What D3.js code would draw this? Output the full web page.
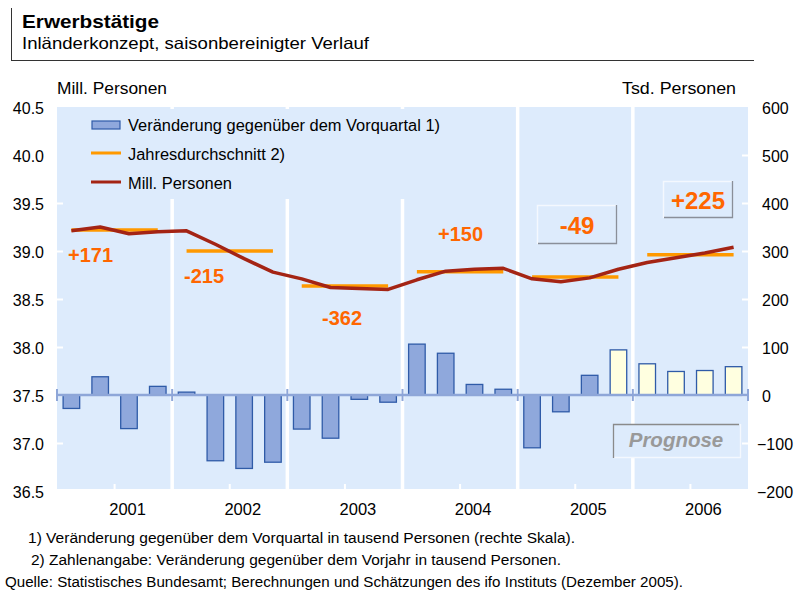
<!DOCTYPE html>
<html>
<head>
<meta charset="utf-8">
<script src="https://cdn.jsdelivr.net/npm/d3@7"></script>
<style>
  html, body { margin: 0; padding: 0; background: #ffffff; }
  svg { display: block; font-family: Arial, "Liberation Sans", sans-serif; }
</style>
</head>
<body>
<svg id="chart" width="795" height="591"></svg>
<script>
// ---------- DATA ----------
const years = ["2001", "2002", "2003", "2004", "2005", "2006"];
const quarters = years.flatMap(y => ["Q1", "Q2", "Q3", "Q4"].map(q => y + q));
// Veränderung gegenüber dem Vorquartal (Tsd. Personen, rechte Skala)
const changes = [-28, 38, -70, 18,  6, -137, -153, -140,  -71, -90, -9, -15,
                 106, 87, 22, 12,  -110, -35, 41, 94,  65, 49, 51, 59];
// Erwerbstätige in Mill. Personen (linke Skala)
const persons = [39.21, 39.25, 39.18, 39.20,  39.21, 39.07, 38.92, 38.78,
                 38.71, 38.62, 38.61, 38.60,  38.70, 38.79, 38.81, 38.82,
                 38.71, 38.68, 38.72, 38.81,  38.88, 38.93, 38.98, 39.04];
// Jahresdurchschnitt (Mill. Personen)
const annualAvg = [39.22, 39.00, 38.635, 38.785, 38.73, 38.96];
// Veränderung gegenüber dem Vorjahr (Tsd. Personen)
const annualChange = ["+171", "-215", "-362", "+150", "-49", "+225"];
const forecastStart = "2005Q4";
const leftTicks = [36.5, 37.0, 37.5, 38.0, 38.5, 39.0, 39.5, 40.0, 40.5];
const rightTicks = [-200, -100, 0, 100, 200, 300, 400, 500, 600];

// ---------- LAYOUT ----------
const L = 57, R = 748, T = 107, B = 491;
const BG = "#ddebfc";
const FONT = "Arial, 'Liberation Sans', sans-serif";
const svg = d3.select("#chart");

const x = d3.scaleBand().domain(quarters).range([L, R]).paddingInner(0.39).paddingOuter(0.195);
const xYear = d3.scaleBand().domain(years).range([L, R]);
const yL = d3.scaleLinear().domain([36.5, 40.5]).range([B, T]);
const yR = d3.scaleLinear().domain([-200, 600]).range([B, T]);
const cx = q => x(q) + x.bandwidth() / 2;
const fcIdx = quarters.indexOf(forecastStart);

// ---------- TITLE ----------
svg.append("line").attr("x1", 11.5).attr("x2", 11.5).attr("y1", 8).attr("y2", 61).attr("stroke", "#333").attr("stroke-width", 1);
svg.append("line").attr("x1", 11).attr("x2", 754).attr("y1", 60.5).attr("y2", 60.5).attr("stroke", "#333").attr("stroke-width", 1);
svg.append("text").attr("x", 22).attr("y", 28).attr("font-size", 18.5).attr("font-weight", "bold").attr("fill", "#000")
  .attr("textLength", 137).attr("lengthAdjust", "spacingAndGlyphs").text("Erwerbstätige");
svg.append("text").attr("x", 22).attr("y", 49).attr("font-size", 16.5).attr("fill", "#000")
  .attr("textLength", 347).attr("lengthAdjust", "spacingAndGlyphs").text("Inländerkonzept, saisonbereinigter Verlauf");

// axis titles
svg.append("text").attr("x", 57).attr("y", 94).attr("font-size", 16).attr("fill", "#000")
  .attr("textLength", 110).attr("lengthAdjust", "spacingAndGlyphs").text("Mill. Personen");
svg.append("text").attr("x", 622).attr("y", 94).attr("font-size", 16).attr("fill", "#000")
  .attr("textLength", 114).attr("lengthAdjust", "spacingAndGlyphs").text("Tsd. Personen");

// ---------- PLOT BACKGROUND ----------
svg.append("rect").attr("x", L).attr("y", T).attr("width", R - L).attr("height", B - 2 - T).attr("fill", BG);

// year separators (white)
svg.append("g").selectAll("line").data(years.slice(1)).join("line")
  .attr("x1", d => xYear(d)).attr("x2", d => xYear(d))
  .attr("y1", T).attr("y2", B - 2)
  .attr("stroke", "#ffffff").attr("stroke-width", 3.5);

// white inner ticks left / right / bottom
const lt = svg.append("g").attr("transform", `translate(${L},0)`)
  .call(d3.axisRight(yL).tickValues(leftTicks.slice(1, -1)).tickSize(6).tickFormat(""));
lt.select(".domain").remove();
lt.selectAll("line").attr("stroke", "#fff").attr("stroke-width", 2);
const rt = svg.append("g").attr("transform", `translate(${R},0)`)
  .call(d3.axisLeft(yR).tickValues(rightTicks.slice(1, -1)).tickSize(6).tickFormat(""));
rt.select(".domain").remove();
rt.selectAll("line").attr("stroke", "#fff").attr("stroke-width", 2);
const bt = svg.append("g").attr("transform", `translate(0,${B - 2})`)
  .call(d3.axisTop(xYear).tickSize(5).tickFormat(""));
bt.select(".domain").remove();
bt.selectAll("line").attr("stroke", "#fff").attr("stroke-width", 2);

// legend panel (covers the separators)
svg.append("rect").attr("x", L).attr("y", T + 2).attr("width", 398).attr("height", 90).attr("fill", BG);

// ---------- BARS ----------
svg.append("g").selectAll("rect").data(quarters).join("rect")
  .attr("x", q => x(q) + 0.5)
  .attr("width", x.bandwidth() - 1)
  .attr("y", (q, i) => yR(Math.max(0, changes[i])))
  .attr("height", (q, i) => Math.abs(yR(changes[i]) - yR(0)))
  .attr("fill", (q, i) => i >= fcIdx ? "#ffffe0" : "#8fa8dc")
  .attr("stroke", "#2f5ba8").attr("stroke-width", 1.3);

// zero line with year ticks
svg.append("line").attr("x1", L).attr("x2", R).attr("y1", yR(0)).attr("y2", yR(0))
  .attr("stroke", "#8ea6d8").attr("stroke-width", 2.5);
svg.append("g").selectAll("line").data(years.concat(["end"])).join("line")
  .attr("x1", (d, i) => i < years.length ? xYear(d) : R)
  .attr("x2", (d, i) => i < years.length ? xYear(d) : R)
  .attr("y1", yR(0) - 6).attr("y2", yR(0) + 6)
  .attr("stroke", "#8ea6d8").attr("stroke-width", 2);

// ---------- ANNUAL AVERAGES ----------
svg.append("g").selectAll("line").data(years).join("line")
  .attr("x1", (y, i) => cx(quarters[i * 4]))
  .attr("x2", (y, i) => cx(quarters[i * 4 + 3]))
  .attr("y1", (y, i) => yL(annualAvg[i])).attr("y2", (y, i) => yL(annualAvg[i]))
  .attr("stroke", "#ff9900").attr("stroke-width", 3.5);

// ---------- LINE ----------
const line = d3.line().x((d, i) => cx(quarters[i])).y(d => yL(d));
svg.append("path").datum(persons).attr("d", line)
  .attr("fill", "none").attr("stroke", "#a42414").attr("stroke-width", 3.5).attr("stroke-linejoin", "round");

// ---------- ANNUAL CHANGE LABELS ----------
const labelPos = [
  { x: 68, y: 262, size: 20, anchor: "start" },
  { x: 184, y: 283, size: 20, anchor: "start" },
  { x: 322, y: 325, size: 20, anchor: "start" },
  { x: 438, y: 240.5, size: 20, anchor: "start" },
  { x: 577, y: 234, size: 24, anchor: "middle", box: [537, 205, 80, 39] },
  { x: 698, y: 209, size: 24, anchor: "middle", box: [663, 181, 70, 37] }
];
labelPos.forEach((p, i) => {
  if (p.box) {
    const [bx, by, bw, bh] = p.box;
    const g = svg.append("g");
    g.append("rect").attr("x", bx).attr("y", by).attr("width", bw).attr("height", bh).attr("fill", BG);
    g.append("path").attr("d", `M${bx + 0.5},${by + bh} V${by + 0.5} H${bx + bw}`).attr("fill", "none").attr("stroke", "#f4f8fe").attr("stroke-width", 1.5);
    g.append("path").attr("d", `M${bx + 1},${by + bh - 0.5} H${bx + bw - 0.5} V${by}`).attr("fill", "none").attr("stroke", "#8a8f99").attr("stroke-width", 1.3);
  }
  svg.append("text").attr("x", p.x).attr("y", p.y).attr("text-anchor", p.anchor)
    .attr("font-size", p.size).attr("font-weight", "bold").attr("fill", "#ff6600")
    .text(annualChange[i]);
});

// ---------- PROGNOSE BOX ----------
{
  const bx = 613, by = 424, bw = 128, bh = 34;
  svg.append("rect").attr("x", bx).attr("y", by).attr("width", bw).attr("height", bh).attr("fill", BG);
  svg.append("path").attr("d", `M${bx + bw},${by + bh - 0.5} H${bx + 1} `).attr("fill", "none").attr("stroke", "#f4f8fe").attr("stroke-width", 1.3);
  svg.append("path").attr("d", `M${bx + bw - 0.5},${by} V${by + bh}`).attr("fill", "none").attr("stroke", "#f4f8fe").attr("stroke-width", 1.3);
  svg.append("path").attr("d", `M${bx + 0.5},${by + bh} V${by + 0.5} H${bx + bw - 2}`).attr("fill", "none").attr("stroke", "#8a8a8a").attr("stroke-width", 1.3);
  svg.append("text").attr("x", 676).attr("y", 447).attr("text-anchor", "middle")
    .attr("font-size", 20.5).attr("font-weight", "bold").attr("font-style", "italic").attr("fill", "#999999")
    .text("Prognose");
}

// ---------- LEGEND ----------
const leg = svg.append("g");
leg.append("rect").attr("x", 92).attr("y", 121).attr("width", 28).attr("height", 8)
  .attr("fill", "#8fa8dc").attr("stroke", "#2f5ba8").attr("stroke-width", 1.2);
leg.append("line").attr("x1", 91).attr("x2", 121).attr("y1", 153).attr("y2", 153).attr("stroke", "#ff9900").attr("stroke-width", 3);
leg.append("line").attr("x1", 91).attr("x2", 121).attr("y1", 182).attr("y2", 182).attr("stroke", "#a42414").attr("stroke-width", 3);
[["Veränderung gegenüber dem Vorquartal 1)", 131, 312], ["Jahresdurchschnitt 2)", 160, 157], ["Mill. Personen", 189, 104]]
  .forEach(([t, y, w]) => leg.append("text").attr("x", 128).attr("y", y).attr("font-size", 16).attr("fill", "#000")
    .attr("textLength", w).attr("lengthAdjust", "spacingAndGlyphs").text(t));

// ---------- AXES LABELS ----------
const la = svg.append("g").attr("transform", "translate(44,0)")
  .call(d3.axisLeft(yL).tickValues(leftTicks).tickSize(0).tickPadding(0).tickFormat(d3.format(".1f")));
la.select(".domain").remove();
la.selectAll("text").attr("font-size", 16).attr("fill", "#000").attr("font-family", FONT).attr("dy", "0.42em");

const ra = svg.append("g").attr("transform", "translate(762,0)")
  .call(d3.axisRight(yR).tickValues(rightTicks).tickSize(0).tickPadding(0).tickFormat(d3.format("d")));
ra.select(".domain").remove();
ra.selectAll("text").attr("font-size", 16).attr("fill", "#000").attr("font-family", FONT).attr("dy", "0.42em")
  .attr("x", d => d < 0 ? -5 : 0);

const xa = svg.append("g").attr("transform", `translate(13,${B})`)
  .call(d3.axisBottom(xYear).tickSize(0).tickPadding(12));
xa.select(".domain").remove();
xa.selectAll("text").attr("font-size", 16.5).attr("fill", "#000").attr("font-family", FONT);

// ---------- FOOTNOTES ----------
svg.append("text").attr("x", 28).attr("y", 543).attr("font-size", 14).attr("fill", "#000")
  .attr("textLength", 547).attr("lengthAdjust", "spacingAndGlyphs")
  .text("1) Veränderung gegenüber dem Vorquartal in tausend Personen (rechte Skala).");
svg.append("text").attr("x", 31).attr("y", 565).attr("font-size", 14).attr("fill", "#000")
  .attr("textLength", 530).attr("lengthAdjust", "spacingAndGlyphs")
  .text("2) Zahlenangabe: Veränderung gegenüber dem Vorjahr in tausend Personen.");
svg.append("text").attr("x", 5).attr("y", 587).attr("font-size", 14).attr("fill", "#000")
  .attr("textLength", 678).attr("lengthAdjust", "spacingAndGlyphs")
  .text("Quelle: Statistisches Bundesamt; Berechnungen und Schätzungen des ifo Instituts (Dezember 2005).");
</script>
</body>
</html>
